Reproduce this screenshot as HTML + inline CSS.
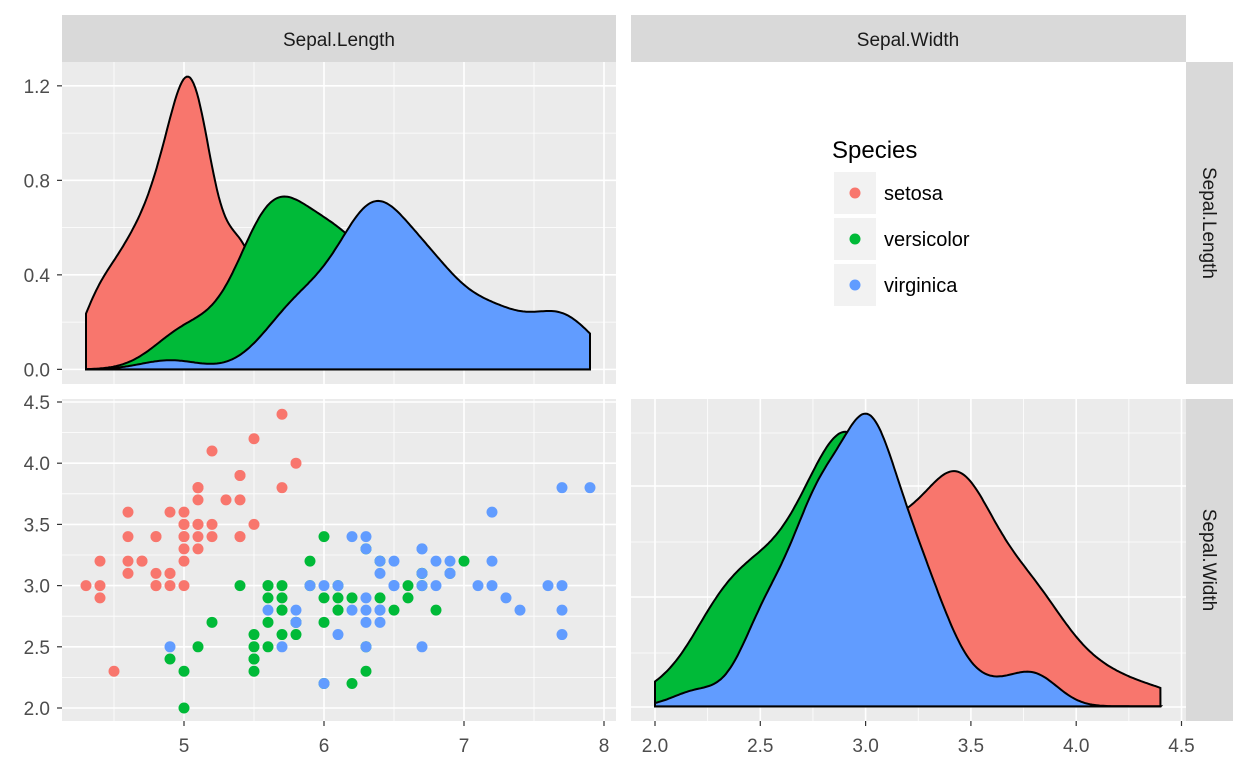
<!DOCTYPE html>
<html><head><meta charset="utf-8"><style>
html,body{margin:0;padding:0;background:#fff}
svg text{font-family:"Liberation Sans",Arial,sans-serif}
</style></head><body>
<svg id="c" width="1248" height="768" xmlns="http://www.w3.org/2000/svg"></svg>
<script>
const species = ['setosa','versicolor','virginica'];
const colors = ['#F8766D','#00BA38','#619CFF'];
const sepalLength = [
5.1,4.9,4.7,4.6,5.0,5.4,4.6,5.0,4.4,4.9,5.4,4.8,4.8,4.3,5.8,5.7,5.4,5.1,5.7,5.1,5.4,5.1,4.6,5.1,4.8,5.0,5.0,5.2,5.2,4.7,4.8,5.4,5.2,5.5,4.9,5.0,5.5,4.9,4.4,5.1,5.0,4.5,4.4,5.0,5.1,4.8,5.1,4.6,5.3,5.0,
7.0,6.4,6.9,5.5,6.5,5.7,6.3,4.9,6.6,5.2,5.0,5.9,6.0,6.1,5.6,6.7,5.6,5.8,6.2,5.6,5.9,6.1,6.3,6.1,6.4,6.6,6.8,6.7,6.0,5.7,5.5,5.5,5.8,6.0,5.4,6.0,6.7,6.3,5.6,5.5,5.5,6.1,5.8,5.0,5.6,5.7,5.7,6.2,5.1,5.7,
6.3,5.8,7.1,6.3,6.5,7.6,4.9,7.3,6.7,7.2,6.5,6.4,6.8,5.7,5.8,6.4,6.5,7.7,7.7,6.0,6.9,5.6,7.7,6.3,6.7,7.2,6.2,6.1,6.4,7.2,7.4,7.9,6.4,6.3,6.1,7.7,6.3,6.4,6.0,6.9,6.7,6.9,5.8,6.8,6.7,6.7,6.3,6.5,6.2,5.9];
const sepalWidth = [
3.5,3.0,3.2,3.1,3.6,3.9,3.4,3.4,2.9,3.1,3.7,3.4,3.0,3.0,4.0,4.4,3.9,3.5,3.8,3.8,3.4,3.7,3.6,3.3,3.4,3.0,3.4,3.5,3.4,3.2,3.1,3.4,4.1,4.2,3.1,3.2,3.5,3.6,3.0,3.4,3.5,2.3,3.2,3.5,3.8,3.0,3.8,3.2,3.7,3.3,
3.2,3.2,3.1,2.3,2.8,2.8,3.3,2.4,2.9,2.7,2.0,3.0,2.2,2.9,2.9,3.1,3.0,2.7,2.2,2.5,3.2,2.8,2.5,2.8,2.9,3.0,2.8,3.0,2.9,2.6,2.4,2.4,2.7,2.7,3.0,3.4,3.1,2.3,3.0,2.5,2.6,3.0,2.6,2.3,2.7,3.0,2.9,2.9,2.5,2.8,
3.3,2.7,3.0,2.9,3.0,3.0,2.5,2.9,2.5,3.6,3.2,2.7,3.0,2.5,2.8,3.2,3.0,3.8,2.6,2.2,3.2,2.8,2.8,2.7,3.3,3.2,2.8,3.0,2.8,3.0,2.8,3.8,2.8,2.8,2.6,3.0,3.4,3.1,3.0,3.1,3.1,3.1,2.7,3.2,3.3,3.0,2.5,3.0,3.4,3.0];
const xTicksSL = [5,6,7,8];
const yTicksDens = [0.0,0.4,0.8,1.2];
const yTicksSW = [2.0,2.5,3.0,3.5,4.0,4.5];
const xTicksSW = [2.0,2.5,3.0,3.5,4.0,4.5];

const svg = document.getElementById('c');
const NS = 'http://www.w3.org/2000/svg';
function mk(tag, attrs, parent){const e=document.createElementNS(NS,tag);for(const k in attrs)e.setAttribute(k,attrs[k]);(parent||svg).appendChild(e);return e;}

const xSL = v => 184 + (v-5)*140;
const ySW = v => 708 - (v-2)*122.4;
const xSW = v => 655 + (v-2)*210.6;

function quant(s,p){const h=(s.length-1)*p,l=Math.floor(h);return s[l]+(h-l)*((s[Math.min(l+1,s.length-1)])-s[l]);}
function bw(a){const n=a.length,m=a.reduce((x,y)=>x+y,0)/n;const sd=Math.sqrt(a.reduce((x,y)=>x+(y-m)*(y-m),0)/(n-1));const s=[...a].sort((x,y)=>x-y);const iqr=(quant(s,0.75)-quant(s,0.25))/1.34;return 0.9*Math.min(sd,iqr)*Math.pow(n,-0.2);}
function kde(a,lo,hi){const h=bw(a),n=a.length,out=[];for(let i=0;i<=300;i++){const x=lo+(hi-lo)*i/300;let s=0;for(const v of a){const z=(x-v)/h;s+=Math.exp(-0.5*z*z);}out.push([x,s/(n*h*Math.sqrt(2*Math.PI))]);}return out;}
function groups(arr){return species.map((s,g)=>arr.slice(g*50,g*50+50));}

function panel(x,y,w,h,name,fill){return mk('rect',{x,y,width:w,height:h,fill:fill||'#EBEBEB',});}
function hline(y,x1,x2,major){mk('line',{x1,x2,y1:y,y2:y,stroke:'#fff','stroke-width':major?1.6:0.8,});}
function vline(x,y1,y2,major){mk('line',{x1:x,x2:x,y1,y2,stroke:'#fff','stroke-width':major?1.6:0.8,});}
function txt(s,x,y,attrs,name){const t=mk('text',Object.assign({x,y,'font-size':19,fill:'#4D4D4D'},attrs));t.textContent=s;return t;}

mk('rect',{x:62,y:15,width:554,height:47,fill:'#D9D9D9',});
txt('Sepal.Length',339,46,{'text-anchor':'middle',fill:'#1A1A1A'},'strip-label-sepal-length');
mk('rect',{x:631,y:15,width:555,height:47,fill:'#D9D9D9',});
txt('Sepal.Width',908,46,{'text-anchor':'middle',fill:'#1A1A1A'},'strip-label-sepal-width');
mk('rect',{x:1186,y:62,width:47,height:322,fill:'#D9D9D9',});
txt('Sepal.Length',0,0,{'text-anchor':'middle',fill:'#1A1A1A',transform:'translate(1203,223) rotate(90)'},'row-strip-label-sepal-length');
mk('rect',{x:1186,y:399,width:47,height:322,fill:'#D9D9D9',});
txt('Sepal.Width',0,0,{'text-anchor':'middle',fill:'#1A1A1A',transform:'translate(1203,560) rotate(90)'},'row-strip-label-sepal-width');

panel(62,62,554,322,'panel-density-sepal-length');
const dSL = groups(sepalLength).map(a=>kde(a,4.3,7.9));
const mSL = Math.max(...dSL.flat().map(p=>p[1]));
const yD1 = d => 384 - 322*(0.05 + d/mSL)/1.1;
[0.2,0.6,1.0].forEach(v=>hline(yD1(v),62,616,false));
[4.5,5.5,6.5,7.5].forEach(v=>vline(xSL(v),62,384,false));
yTicksDens.forEach(v=>hline(yD1(v),62,616,true));
xTicksSL.forEach(v=>vline(xSL(v),62,384,true));
dSL.forEach((d,g)=>{
  let p='M'+xSL(d[0][0])+','+yD1(0);
  d.forEach(q=>p+=' L'+xSL(q[0]).toFixed(1)+','+yD1(q[1]).toFixed(1));
  p+=' L'+xSL(d[d.length-1][0])+','+yD1(0)+' Z';
  mk('path',{d:p,fill:colors[g],stroke:'#000','stroke-width':2,});
});
yTicksDens.forEach(v=>{mk('line',{x1:57,x2:62,y1:yD1(v),y2:yD1(v),stroke:'#333','stroke-width':1.2,});txt(v.toFixed(1),50,yD1(v)+7,{'text-anchor':'end'},'y-tick-label');});

mk('text',{x:832,y:158,'font-size':24,fill:'#000',}).textContent='Species';
species.forEach((s,g)=>{
  const y=172+g*46;
  mk('rect',{x:834,y,width:42,height:42,fill:'#F2F2F2',});
  mk('circle',{cx:855,cy:y+21,r:5.5,fill:colors[g],});
  txt(s,884,y+28,{'font-size':20,fill:'#000'},'legend-label-'+s);
});

panel(62,399,554,322,'panel-scatter');
[2.25,2.75,3.25,3.75,4.25].forEach(v=>hline(ySW(v),62,616,false));
[4.5,5.5,6.5,7.5].forEach(v=>vline(xSL(v),399,721,false));
yTicksSW.forEach(v=>hline(ySW(v),62,616,true));
xTicksSL.forEach(v=>vline(xSL(v),399,721,true));
for(let i=0;i<150;i++){
  const c=mk('circle',{cx:xSL(sepalLength[i]),cy:ySW(sepalWidth[i]),r:5.5,fill:colors[Math.floor(i/50)]});
  
  
}
yTicksSW.forEach(v=>{mk('line',{x1:57,x2:62,y1:ySW(v),y2:ySW(v),stroke:'#333','stroke-width':1.2,});txt(v.toFixed(1),50,ySW(v)+7,{'text-anchor':'end'},'y-tick-label');});
xTicksSL.forEach(v=>{mk('line',{x1:xSL(v),x2:xSL(v),y1:721,y2:726,stroke:'#333','stroke-width':1.2,});txt(String(v),xSL(v),752,{'text-anchor':'middle'},'x-tick-label');});

panel(631,399,555,322,'panel-density-sepal-width');
[433,542,653].forEach(y=>hline(y,631,1186,false));
[2.25,2.75,3.25,3.75,4.25].forEach(v=>vline(xSW(v),399,721,false));
[486,597,707].forEach(y=>hline(y,631,1186,true));
xTicksSW.forEach(v=>vline(xSW(v),399,721,true));
const dSW = groups(sepalWidth).map(a=>kde(a,2.0,4.4));
const mSW = Math.max(...dSW.flat().map(p=>p[1]));
const yD2 = d => 721 - 322*(0.05 + d/mSW)/1.1;
dSW.forEach((d,g)=>{
  let p='M'+xSW(d[0][0])+','+yD2(0);
  d.forEach(q=>p+=' L'+xSW(q[0]).toFixed(1)+','+yD2(q[1]).toFixed(1));
  p+=' L'+xSW(d[d.length-1][0])+','+yD2(0)+' Z';
  mk('path',{d:p,fill:colors[g],stroke:'#000','stroke-width':2,});
});
xTicksSW.forEach(v=>{mk('line',{x1:xSW(v),x2:xSW(v),y1:721,y2:726,stroke:'#333','stroke-width':1.2,});txt(v.toFixed(1),xSW(v),752,{'text-anchor':'middle'},'x-tick-label');});
</script>
</body></html>
